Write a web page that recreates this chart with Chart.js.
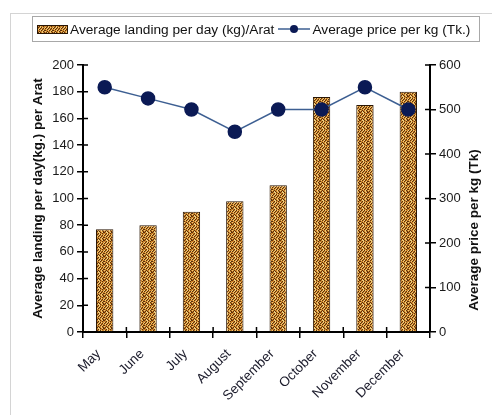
<!DOCTYPE html>
<html>
<head>
<meta charset="utf-8">
<script src="https://cdn.jsdelivr.net/npm/chart.js@4"></script>
<style>
  html, body { margin: 0; padding: 0; background: #fff; }
  #wrap { position: relative; width: 492px; height: 415px; overflow: hidden; }
  #frame { position: absolute; left: 10px; top: 13px; width: 500px; height: 420px;
           border-left: 1px solid #d4d4d4; border-top: 1px solid #d4d4d4; }
  #chart { position: absolute; left: 0; top: 0; }
  #legend { position: absolute; left: 32px; top: 16px; width: 446px; height: 24px;
            border: 1px solid #a8a8a8; font: 13.7px "Liberation Sans", Arial, sans-serif;
            color: #111; display: flex; align-items: center; }
  #legend canvas { display: block; }
  #legend span { white-space: nowrap; }
</style>
</head>
<body>
<div id="wrap">
  <div id="frame"></div>
  <canvas id="chart" width="492" height="415"></canvas>
  <div id="legend">
    <canvas id="sw1" width="31" height="9" style="margin-left:4px"></canvas>
    <span style="margin-left:2px">Average landing per day (kg)/Arat</span>
    <canvas id="sw2" width="32" height="12" style="margin-left:4px"></canvas>
    <span style="margin-left:2px">Average price per kg (Tk.)</span>
  </div>
</div>
<script>
// data
const months = ['May', 'June', 'July', 'August', 'September', 'October', 'November', 'December'];
const landing = [77, 80, 90, 98, 110, 176, 170, 180];
const price = [550, 525, 500, 450, 500, 500, 550, 500];
const landingTicks = { min: 0, max: 200, step: 20 };
const priceTicks = { min: 0, max: 600, step: 100 };
const priceTitle = 'Average price per kg (Tk)';

const FONT = '"Liberation Sans", Arial, sans-serif';
const LINE_COLOR = '#3d5f92';
const DOT_COLOR = '#0b1a55';

// woven texture for the bars
function makeTile() {
  const rows = [
    'DOLLDOLD',
    'OODLOODO',
    'LDOLDLOO',
    'DOLDOODL',
    'OLDOLDOO',
    'DOOLDOLD',
    'LODOOLDO',
    'ODLDOLOD'
  ];
  const cols = { L: '#f2cc78', D: '#5c2f0a', O: '#c98129' };
  const c = document.createElement('canvas');
  c.width = 8; c.height = 8;
  const g = c.getContext('2d');
  rows.forEach(function (r, y) {
    for (let x = 0; x < r.length; x++) {
      g.fillStyle = cols[r[x]];
      g.fillRect(x, y, 1, 1);
    }
  });
  return c;
}

const ctx = document.getElementById('chart').getContext('2d');
const barPattern = ctx.createPattern(makeTile(), 'repeat');

// legend swatches
(function () {
  const s1 = document.getElementById('sw1').getContext('2d');
  s1.fillStyle = s1.createPattern(makeTile(), 'repeat');
  s1.fillRect(0, 0, 31, 9);
  s1.strokeStyle = '#2a1604';
  s1.strokeRect(0.5, 0.5, 30, 8);
  const s2 = document.getElementById('sw2').getContext('2d');
  s2.strokeStyle = LINE_COLOR;
  s2.lineWidth = 1.5;
  s2.beginPath(); s2.moveTo(0, 6); s2.lineTo(32, 6); s2.stroke();
  s2.fillStyle = DOT_COLOR;
  s2.beginPath(); s2.arc(16, 6, 4, 0, Math.PI * 2); s2.fill();
})();

// tick marks that cross into the plot area, plus the right title read bottom-up
const extras = {
  id: 'extras',
  afterDraw: function (chart) {
    const c = chart.ctx;
    const a = chart.chartArea;
    c.save();
    c.strokeStyle = '#000';
    c.lineWidth = 1.5;
    c.beginPath();
    chart.scales.y.ticks.forEach(function (t, i) {
      const y = chart.scales.y.getPixelForTick(i);
      c.moveTo(a.left, y); c.lineTo(a.left + 5, y);
    });
    chart.scales.y1.ticks.forEach(function (t, i) {
      const y = chart.scales.y1.getPixelForTick(i);
      c.moveTo(a.right - 5, y); c.lineTo(a.right, y);
    });
    for (let i = 0; i <= months.length; i++) {
      const x = chart.scales.x.getPixelForValue(i - 0.5);
      c.moveTo(x, a.bottom - 5); c.lineTo(x, a.bottom);
    }
    c.stroke();

    c.translate(474, 230);
    c.rotate(-Math.PI / 2);
    c.fillStyle = '#111';
    c.font = 'bold 13.5px ' + FONT;
    c.textAlign = 'center';
    c.textBaseline = 'middle';
    c.fillText(priceTitle, 0, 0);
    c.restore();
  }
};

new Chart(ctx, {
  data: {
    labels: months,
    datasets: [
      {
        type: 'line',
        label: 'Average price per kg (Tk.)',
        data: price,
        yAxisID: 'y1',
        borderColor: LINE_COLOR,
        borderWidth: 1.5,
        pointRadius: 6.5,
        pointBackgroundColor: DOT_COLOR,
        pointBorderColor: DOT_COLOR,
        tension: 0,
        order: 0
      },
      {
        type: 'bar',
        label: 'Average landing per day (kg)/Arat',
        data: landing,
        yAxisID: 'y',
        backgroundColor: barPattern,
        borderColor: '#2a1604',
        borderWidth: 1,
        barPercentage: 0.4,
        categoryPercentage: 1,
        order: 1
      }
    ]
  },
  options: {
    responsive: false,
    animation: false,
    layout: { padding: { left: 0, right: 0, top: 65, bottom: 0 } },
    plugins: {
      legend: { display: false },
      tooltip: { enabled: false }
    },
    scales: {
      x: {
        offset: true,
        grid: { display: true, drawOnChartArea: false, offset: true, color: '#000', lineWidth: 1.5, tickLength: 6 },
        border: { color: '#000', width: 2 },
        ticks: { color: '#1a1a2a', font: { family: FONT, size: 13.5 }, minRotation: 45, maxRotation: 45, padding: 8, labelOffset: -6 },
        afterFit: function (s) { s.height = 83; }
      },
      y: {
        position: 'left',
        min: landingTicks.min, max: landingTicks.max,
        ticks: { stepSize: landingTicks.step, color: '#1a1a1a', font: { family: FONT, size: 13 }, padding: 3 },
        grid: { drawOnChartArea: false, color: '#000', lineWidth: 1.5, tickLength: 6 },
        border: { color: '#000', width: 2 },
        title: {
          display: true,
          text: 'Average landing per day(kg.) per Arat',
          color: '#111',
          font: { family: FONT, size: 13.5, weight: 'bold' },
          padding: { top: 30, bottom: 0 }
        },
        afterFit: function (s) { s.width = 83; }
      },
      y1: {
        position: 'right',
        min: priceTicks.min, max: priceTicks.max,
        ticks: { stepSize: priceTicks.step, color: '#1a1a1a', font: { family: FONT, size: 13 }, padding: 3 },
        grid: { drawOnChartArea: false, color: '#000', lineWidth: 1.5, tickLength: 6 },
        border: { color: '#000', width: 2 },
        title: { display: false },
        afterFit: function (s) { s.width = 62; }
      }
    }
  },
  plugins: [extras]
});
</script>
</body>
</html>
